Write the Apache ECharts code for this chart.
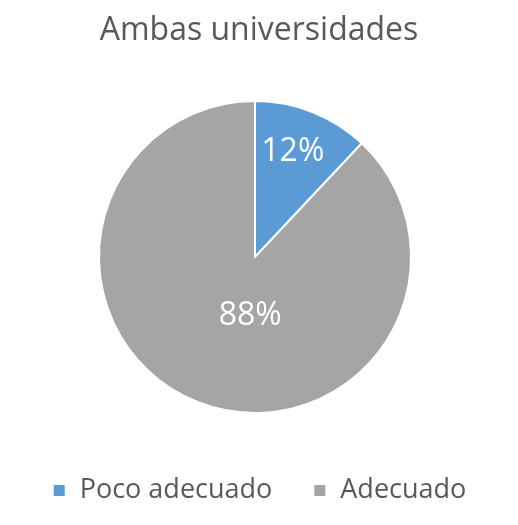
<!DOCTYPE html>
<html>
<head>
<meta charset="utf-8">
<script src="https://cdn.jsdelivr.net/npm/echarts@6/dist/echarts.min.js"></script>
<style>
  html, body { margin: 0; padding: 0; background: #fff; }
  #chart { width: 518px; height: 525px; }
</style>
</head>
<body>
<div id="chart"></div>
<script>
const titleText = 'Ambas universidades';
const categories = ['Poco adecuado', 'Adecuado'];
const values = [12, 88];
const colors = ['#5B9BD5', '#A5A5A5'];

// label nudges so they sit where the original put them
const labelShift = [[8, -30], [25, -16]];

const chart = echarts.init(document.getElementById('chart'));
chart.setOption({
  animation: false,
  title: {
    text: titleText,
    left: 'center',
    top: 10,
    textStyle: {
      fontFamily: 'Open Sans',
      fontSize: 32,
      fontWeight: 'normal',
      color: '#595959'
    }
  },
  legend: {
    data: categories,
    top: 472,
    left: 'center',
    itemWidth: 13,
    itemHeight: 13,
    itemGap: 40,
    icon: 'rect',
    textStyle: {
      fontFamily: 'Open Sans',
      fontSize: 27,
      color: '#595959',
      padding: [0, 0, 0, 9]
    }
  },
  series: [{
    type: 'pie',
    center: [255, 257],
    radius: 156,
    startAngle: 90,
    clockwise: true,
    itemStyle: { borderColor: '#fff', borderWidth: 2 },
    label: {
      position: 'inside',
      formatter: '{c}%',
      color: '#fff',
      fontFamily: 'Open Sans',
      fontSize: 32
    },
    labelLayout: function (p) {
      const s = labelShift[p.dataIndex];
      return { dx: s[0], dy: s[1] };
    },
    data: categories.map((name, i) => ({
      name: name,
      value: values[i],
      itemStyle: { color: colors[i] }
    }))
  }]
});
</script>
</body>
</html>
